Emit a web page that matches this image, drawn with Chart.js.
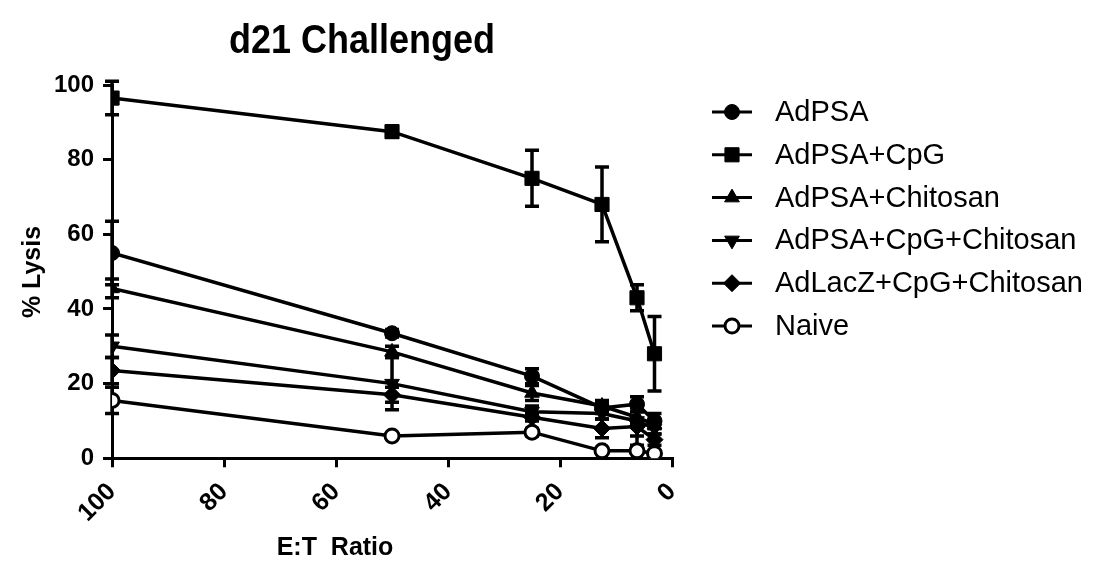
<!DOCTYPE html>
<html>
<head>
<meta charset="utf-8">
<script src="https://cdn.jsdelivr.net/npm/chart.js@4.4.1/dist/chart.umd.min.js"></script>
<style>
  html, body { margin: 0; padding: 0; background: #fff; }
  #wrap { width: 1101px; height: 571px; }
</style>
</head>
<body>
<div id="wrap"><canvas id="line_chart" width="1101" height="571"></canvas></div>
<script>
// E:T ratios (x) and % lysis per group, with error bars
const ratios = [100, 50, 25, 12.5, 6.25, 3.125];
const xTicks = [100, 80, 60, 40, 20, 0];
const yTicks = [0, 20, 40, 60, 80, 100];

const groups = ['AdPSA', 'AdPSA+CpG', 'AdPSA+Chitosan', 'AdPSA+CpG+Chitosan', 'AdLacZ+CpG+Chitosan', 'Naive'];

const adPSA      = [55, 33.5, 22, 13.5, 14.5, 10];
const adPSAErr   = [8.5, 1, 2, 1.5, 2, 2];
const adCpG      = [96.5, 87.5, 75, 68, 43, 28];
const adCpGErr   = [4.5, 1.5, 7.5, 10, 3.5, 10];
const adChito    = [45.5, 28.5, 17.5, 14, 11, 9];
const adChitoErr = [2.5, 1.5, 2, 1.5, 1.5, 1];
const adBoth     = [30, 20, 12.5, 12, 10, 8];
const adBothErr  = [3, 7, 1.5, 1.5, 4, 1.5];
const lacZ       = [23.5, 17, 11, 8, 8.5, 5];
const lacZErr    = [3.5, 2, 1, 2.5, 5, 1.5];
const naive      = [15.5, 6, 7, 2, 2, 1.3];
const naiveErr   = [3.5, 0.5, 1, 0.5, 0.5, 0.5];

const FONT = '"Liberation Sans", Arial, sans-serif';

function pts(vals) {
  return vals.map((v, i) => ({ x: ratios[i], y: v }));
}

function makeSet(label, vals, errs, style, radius, rot, fill) {
  return {
    label: label,
    data: pts(vals),
    errors: errs,
    borderColor: '#000',
    backgroundColor: '#000',
    borderWidth: 3.5,
    pointStyle: style,
    pointRadius: radius,
    pointRotation: rot,
    pointBackgroundColor: fill,
    pointBorderColor: '#000',
    pointBorderWidth: fill === '#fff' ? 3 : 1,
    tension: 0,
    fill: false
  };
}

const datasets = [
  makeSet(groups[0], adPSA, adPSAErr, 'circle', 7.5, 0, '#000'),
  makeSet(groups[1], adCpG, adCpGErr, 'rect', 10, 0, '#000'),
  makeSet(groups[2], adChito, adChitoErr, 'triangle', 8.5, 0, '#000'),
  makeSet(groups[3], adBoth, adBothErr, 'triangle', 8.5, 180, '#000'),
  makeSet(groups[4], lacZ, lacZErr, 'rectRot', 8.5, 0, '#000'),
  makeSet(groups[5], naive, naiveErr, 'circle', 7, 0, '#fff')
];

/////////////////////////////////////////////////////
// error bars, drawn through the scales
const errorBars = {
  id: 'errorBars',
  beforeDatasetsDraw(chart) {
    const ctx = chart.ctx;
    const xs = chart.scales.x, ys = chart.scales.y;
    ctx.save();
    ctx.strokeStyle = '#000';
    ctx.lineWidth = 3.5;
    chart.data.datasets.forEach(ds => {
      ds.data.forEach((p, j) => {
        const e = ds.errors[j];
        if (!e) return;
        const x = xs.getPixelForValue(p.x);
        const yt = ys.getPixelForValue(p.y + e);
        const yb = ys.getPixelForValue(p.y - e);
        ctx.beginPath();
        ctx.moveTo(x, yt); ctx.lineTo(x, yb);
        ctx.moveTo(x - 7, yt); ctx.lineTo(x + 7, yt);
        ctx.moveTo(x - 7, yb); ctx.lineTo(x + 7, yb);
        ctx.stroke();
      });
    });
    ctx.restore();
  }
};

// titles and legend
const decorations = {
  id: 'decorations',
  afterDraw(chart) {
    const ctx = chart.ctx;
    ctx.save();
    ctx.fillStyle = '#000';
    ctx.textAlign = 'center';
    ctx.textBaseline = 'alphabetic';
    ctx.save();
    ctx.translate(362, 53);
    ctx.scale(1, 1.12);
    ctx.font = 'bold 36px ' + FONT;
    ctx.fillText('d21 Challenged', 0, 0);
    ctx.restore();

    ctx.font = 'bold 25px ' + FONT;
    ctx.fillText('E:T  Ratio', 335, 555);

    ctx.save();
    ctx.translate(40, 272);
    ctx.rotate(-Math.PI / 2);
    ctx.fillText('% Lysis', 0, 0);
    ctx.restore();

    // legend
    ctx.textAlign = 'left';
    ctx.textBaseline = 'middle';
    ctx.font = '29px ' + FONT;
    chart.data.datasets.forEach((ds, i) => {
      const y = 112 + i * 42.8;
      ctx.strokeStyle = '#000';
      ctx.lineWidth = 3;
      ctx.beginPath();
      ctx.moveTo(712, y); ctx.lineTo(752, y);
      ctx.stroke();
      ctx.fillStyle = ds.pointBackgroundColor;
      ctx.lineWidth = ds.pointBorderWidth;
      Chart.helpers.drawPoint(ctx, {
        pointStyle: ds.pointStyle,
        rotation: ds.pointRotation,
        radius: ds.pointRadius,
        borderWidth: ds.pointBorderWidth
      }, 732, y);
      ctx.fillStyle = '#000';
      ctx.fillText(ds.label, 775, y + 1);
    });
    ctx.restore();
  }
};

const scales = {
  x: {
    type: 'linear',
    reverse: true,
    min: 0,
    max: 100,
    afterBuildTicks: (axis) => { axis.ticks = xTicks.map(v => ({ value: v })); },
    ticks: { color: '#000', font: { family: FONT, size: 25, weight: 'bold' }, minRotation: 45, maxRotation: 45, padding: 10 },
    grid: { drawOnChartArea: false, drawTicks: true, tickLength: 9, tickWidth: 3, tickColor: '#000', lineWidth: 3 },
    border: { color: '#000', width: 3 }
  },
  y: {
    type: 'linear',
    min: 0,
    max: 100,
    afterBuildTicks: (axis) => { axis.ticks = yTicks.map(v => ({ value: v })); },
    ticks: { color: '#000', font: { family: FONT, size: 24, weight: 'bold' }, padding: 9 },
    grid: { drawOnChartArea: false, drawTicks: true, tickLength: 9, tickWidth: 3, tickColor: '#000', lineWidth: 3 },
    border: { color: '#000', width: 3 }
  }
};

const config = {
  type: 'line',
  data: { datasets: datasets },
  options: {
    responsive: false,
    animation: false,
    layout: { padding: { left: 45, right: 429, top: 85, bottom: 33 } },
    scales: scales,
    plugins: {
      legend: { display: false },
      title: { display: false },
      tooltip: { enabled: false }
    }
  },
  plugins: [errorBars, decorations]
};

const ctx = document.getElementById('line_chart').getContext('2d');
var myChart = new Chart(ctx, config);
</script>
</body>
</html>
